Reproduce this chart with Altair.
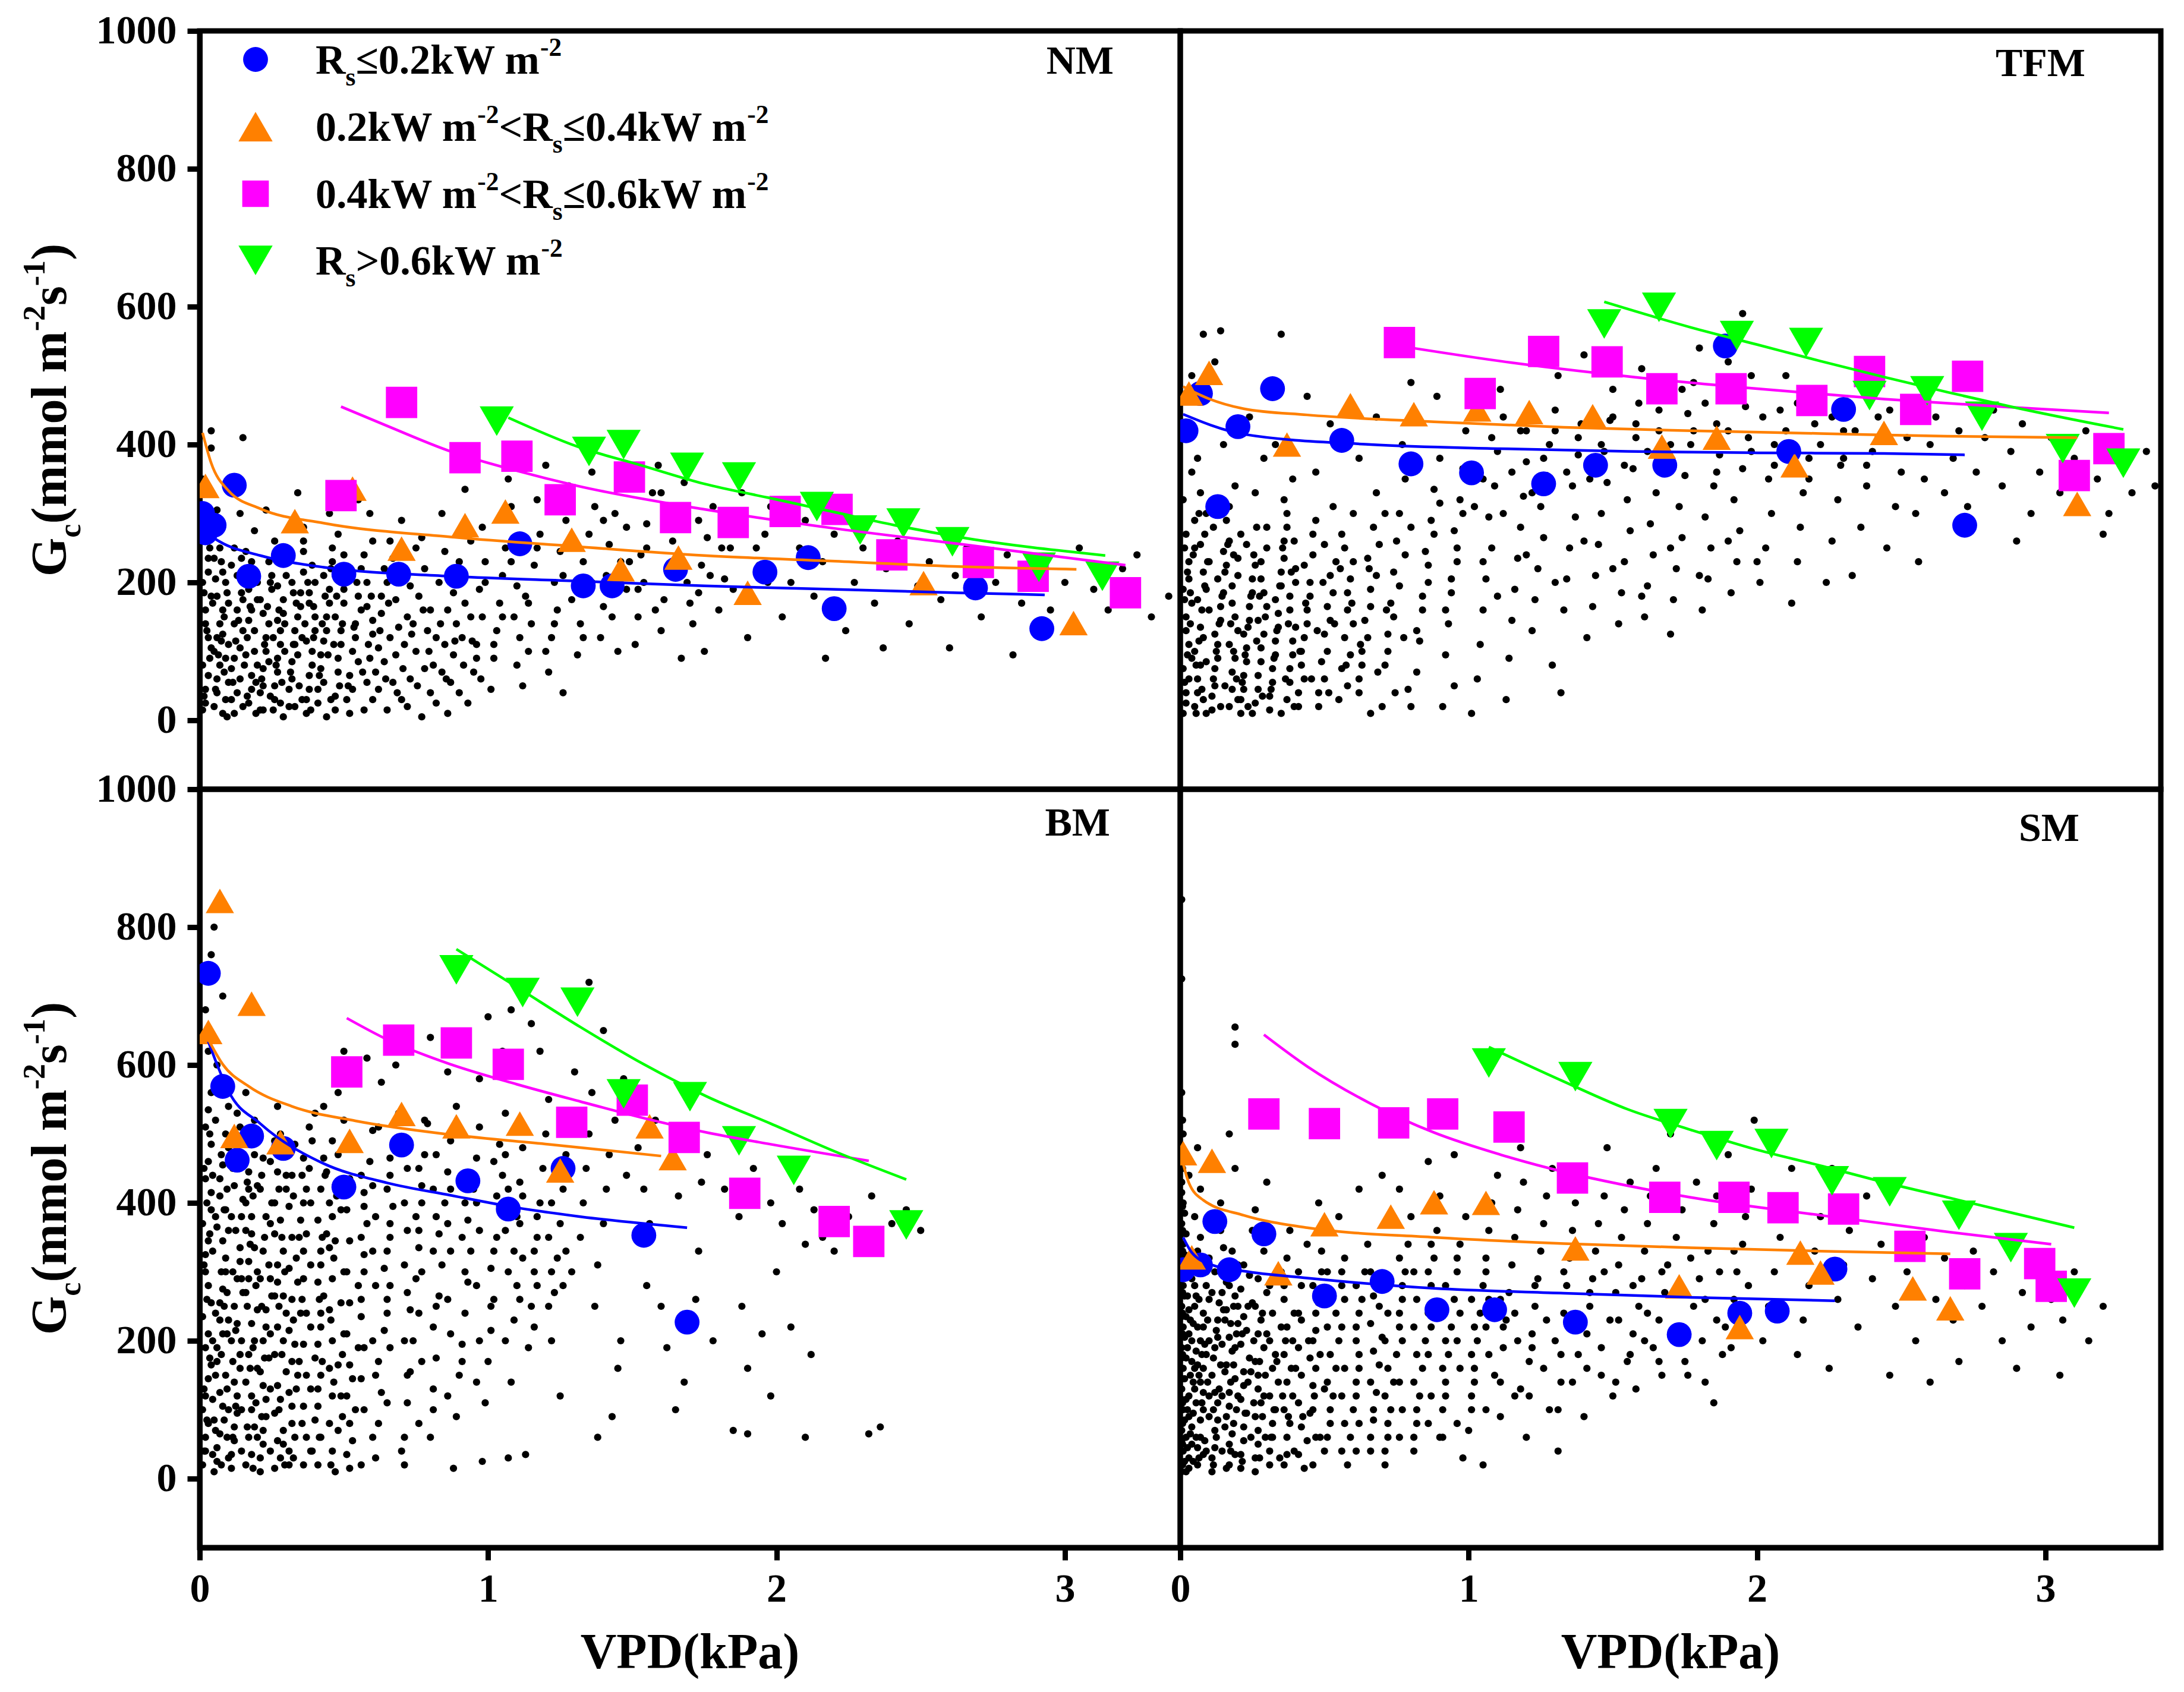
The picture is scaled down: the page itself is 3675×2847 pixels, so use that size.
import altair as alt
import pandas as pd

# ---------------- layout / style ----------------
W, H = 1650, 1276
XMAX = 3.4
FONT = "Liberation Serif"
BLACK = "#000000"

CLASS_NAMES = ["c1", "c2", "c3", "c4"]
CLASS_COLORS = ["#0000FF", "#FF8000", "#FF00FF", "#00FF00"]
CLASS_SHAPES = ["circle", "triangle-up", "square", "triangle-down"]
CLASS_SIZES = [1750, 3300, 2000, 3300]

X_TICKS = [0, 1, 2, 3]
Y_TICKS = [0, 200, 400, 600, 800, 1000]
PANEL_LABELS = ["NM", "TFM", "BM", "SM"]

# ---------------- data: NM ----------------
NM_DOTS = [
    (0.01, 15), (0.02, 45), (0.01, 80), (0.03, 120), (0.02, 160), (0.01, 200), (0.03, 235), (0.02, 300), (0.01, 350), (0.04, 395),
    (0.05, 20), (0.06, 60), (0.05, 100), (0.07, 140), (0.06, 180), (0.08, 215), (0.07, 250), (0.09, 30), (0.09, 90), (0.08, 125),
    (0.10, 170), (0.10, 55), (0.04, 420), (0.06, 305),
    (0.12, 10), (0.13, 40), (0.11, 75), (0.14, 105), (0.12, 140), (0.15, 175), (0.13, 210), (0.16, 245), (0.17, 25), (0.18, 65),
    (0.16, 95), (0.19, 130), (0.18, 160), (0.20, 200), (0.19, 275), (0.14, 300), (0.15, 410), (0.11, 225), (0.17, 190),
    (0.21, 15), (0.22, 50), (0.24, 85), (0.23, 120), (0.22, 155), (0.25, 190), (0.24, 230), (0.26, 30), (0.27, 70), (0.28, 110),
    (0.27, 145), (0.29, 175), (0.26, 260), (0.30, 210), (0.29, 5), (0.23, 305),
    (0.31, 20), (0.32, 60), (0.34, 95), (0.33, 130), (0.35, 165), (0.32, 200), (0.36, 245), (0.37, 10), (0.38, 45), (0.39, 80),
    (0.37, 115), (0.40, 150), (0.38, 185), (0.36, 280), (0.39, 225), (0.34, 330),
    (0.41, 25), (0.43, 55), (0.42, 95), (0.44, 130), (0.45, 170), (0.43, 210), (0.46, 250), (0.47, 15), (0.48, 70), (0.49, 110),
    (0.47, 150), (0.50, 190), (0.48, 270), (0.45, 300),
    (0.52, 10), (0.53, 45), (0.55, 85), (0.54, 120), (0.56, 160), (0.58, 200), (0.57, 240), (0.60, 30), (0.61, 70), (0.62, 105),
    (0.60, 145), (0.63, 180), (0.64, 220), (0.66, 260), (0.65, 15), (0.67, 55), (0.68, 95), (0.69, 135), (0.68, 175), (0.70, 290),
    (0.59, 300), (0.55, 320),
    (0.72, 20), (0.73, 60), (0.75, 100), (0.74, 140), (0.76, 180), (0.78, 220), (0.77, 265), (0.80, 40), (0.81, 80), (0.82, 120),
    (0.80, 160), (0.83, 200), (0.85, 245), (0.86, 10), (0.87, 55), (0.88, 95), (0.89, 140), (0.88, 185), (0.90, 230), (0.84, 300),
    (0.92, 335),
    (0.93, 25), (0.95, 70), (0.96, 110), (0.94, 150), (0.97, 190), (0.99, 230), (0.98, 280), (1.01, 45), (1.02, 90), (1.03, 130),
    (1.04, 170), (1.05, 210), (1.06, 250), (1.08, 310), (1.07, 350), (1.10, 80), (1.09, 150), (1.10, 195),
    (1.12, 50), (1.14, 100), (1.15, 140), (1.13, 180), (1.16, 225), (1.18, 270), (1.17, 320), (1.20, 370), (1.21, 70), (1.22, 120),
    (1.24, 160), (1.23, 200), (1.25, 245), (1.27, 290), (1.26, 40), (1.28, 340), (1.29, 175),
    (1.31, 95), (1.32, 140), (1.34, 185), (1.33, 230), (1.35, 270), (1.37, 310), (1.36, 360), (1.39, 120), (1.40, 165), (1.41, 210),
    (1.42, 255), (1.44, 300), (1.46, 345), (1.45, 100), (1.48, 190), (1.49, 230),
    (1.51, 110), (1.52, 150), (1.54, 200), (1.53, 240), (1.55, 285), (1.57, 330), (1.59, 370), (1.60, 130), (1.61, 175), (1.63, 220),
    (1.64, 260), (1.65, 300), (1.67, 90), (1.68, 345), (1.69, 200),
    (1.71, 140), (1.73, 185), (1.74, 225), (1.76, 265), (1.78, 310), (1.80, 160), (1.82, 205), (1.84, 250), (1.86, 290), (1.88, 330),
    (1.90, 120), (1.92, 175), (1.94, 225), (1.96, 270), (1.98, 310), (1.75, 100),
    (2.02, 150), (2.05, 200), (2.08, 250), (2.10, 290), (2.13, 180), (2.16, 230), (2.20, 270), (2.24, 130), (2.27, 200), (2.30, 250),
    (2.34, 170), (2.38, 220), (2.42, 260), (2.46, 140), (2.49, 195), (2.17, 90), (2.37, 105),
    (2.53, 230), (2.57, 175), (2.62, 210), (2.66, 250), (2.71, 150), (2.76, 200), (2.80, 240), (2.85, 170), (2.90, 215), (2.95, 160),
    (3.00, 200), (3.05, 250), (3.10, 190), (3.15, 160), (3.20, 220), (3.25, 240), (3.30, 150), (3.36, 180), (2.60, 105), (2.82, 95),
]
NM_DOTS_2 = [
    (0.02, 25), (0.03, 65), (0.04, 105), (0.02, 140), (0.04, 180), (0.03, 215), (0.05, 270), (0.06, 40), (0.07, 80), (0.08, 160),
    (0.09, 200), (0.05, 235), (0.08, 10), (0.10, 110), (0.06, 120),
    (0.11, 30), (0.12, 90), (0.14, 60), (0.15, 130), (0.13, 160), (0.16, 215), (0.18, 45), (0.19, 100), (0.17, 145), (0.20, 175),
    (0.12, 250), (0.18, 230), (0.15, 20), (0.20, 80),
    (0.21, 40), (0.22, 75), (0.23, 100), (0.24, 140), (0.21, 175), (0.25, 210), (0.26, 50), (0.27, 90), (0.28, 130), (0.29, 155),
    (0.27, 195), (0.30, 240), (0.22, 15), (0.28, 25),
    (0.31, 45), (0.32, 85), (0.33, 110), (0.34, 150), (0.35, 185), (0.36, 215), (0.37, 30), (0.38, 65), (0.39, 100), (0.40, 130),
    (0.38, 170), (0.40, 200), (0.33, 20), (0.36, 260),
    (0.41, 45), (0.42, 75), (0.43, 115), (0.44, 150), (0.45, 190), (0.46, 230), (0.47, 35), (0.48, 90), (0.49, 130), (0.50, 170),
    (0.47, 210), (0.44, 5), (0.50, 240),
    (0.51, 30), (0.52, 65), (0.53, 100), (0.54, 140), (0.55, 180), (0.56, 220), (0.57, 15), (0.58, 55), (0.59, 90), (0.60, 125),
    (0.58, 165), (0.60, 260),
    (0.62, 45), (0.64, 85), (0.66, 120), (0.63, 155), (0.65, 200), (0.67, 235), (0.70, 30), (0.71, 110), (0.72, 150), (0.73, 195),
    (0.75, 250), (0.78, 75), (0.79, 130), (0.77, 5),
    (0.82, 25), (0.84, 70), (0.85, 110), (0.86, 160), (0.87, 210), (0.90, 40), (0.91, 120), (0.92, 170), (0.94, 260), (0.96, 90),
    (0.98, 150), (0.99, 200),
    (1.02, 110), (1.05, 150), (1.08, 230), (1.11, 120), (1.14, 170), (1.17, 250), (1.20, 100), (1.23, 140), (1.26, 210), (1.30, 260),
    (1.33, 120), (1.36, 200), (1.40, 290), (1.43, 150), (1.46, 230), (1.48, 280),
    (1.52, 190), (1.55, 250), (1.58, 160), (1.62, 280), (1.66, 230), (1.70, 170), (1.73, 290), (1.77, 210), (1.81, 250), (1.85, 190),
    (1.89, 280), (1.93, 250), (1.97, 200), (1.60, 330), (1.83, 300),
]
NM_DOTS_3 = [
    (0.015, 35), (0.035, 90), (0.025, 130), (0.045, 170), (0.015, 185), (0.035, 250), (0.055, 45), (0.065, 95), (0.075, 115),
    (0.085, 150), (0.095, 185), (0.055, 205), (0.075, 230), (0.085, 70), (0.095, 5),
    (0.115, 55), (0.125, 115), (0.135, 145), (0.145, 185), (0.155, 80), (0.165, 120), (0.175, 165), (0.185, 210), (0.195, 10),
    (0.195, 55), (0.165, 35), (0.145, 235),
    (0.215, 60), (0.225, 110), (0.235, 165), (0.245, 200), (0.255, 120), (0.265, 80), (0.275, 160), (0.285, 55), (0.295, 100),
    (0.295, 140), (0.255, 15), (0.245, 35),
    (0.315, 70), (0.325, 110), (0.335, 170), (0.345, 50), (0.355, 120), (0.365, 140), (0.375, 200), (0.385, 15), (0.395, 120),
    (0.395, 165), (0.355, 30), (0.325, 185),
    (0.415, 65), (0.425, 140), (0.435, 180), (0.445, 95), (0.455, 30), (0.465, 110), (0.475, 180), (0.485, 50), (0.495, 140),
    (0.455, 220),
    (0.515, 50), (0.535, 135), (0.545, 200), (0.565, 70), (0.585, 110), (0.595, 180), (0.625, 130), (0.645, 60), (0.655, 170),
    (0.685, 40), (0.705, 75), (0.735, 125), (0.755, 50), (0.775, 160), (0.795, 100), (0.835, 140), (0.855, 60), (0.885, 115),
    (0.915, 80), (0.945, 115), (0.975, 60),
]
NM_MEAN_1 = [(0.01, 300), (0.02, 272), (0.05, 283), (0.12, 341), (0.17, 209), (0.29, 239), (0.50, 212), (0.69, 212), (0.89, 209),
             (1.11, 256), (1.33, 195), (1.43, 195), (1.65, 219), (1.96, 215), (2.11, 236), (2.20, 162), (2.69, 192), (2.92, 133)]
NM_MEAN_2 = [(0.02, 340), (0.33, 289), (0.53, 336), (0.70, 249), (0.92, 283), (1.06, 303), (1.29, 262), (1.46, 219), (1.66, 236),
             (1.90, 185), (2.51, 199), (3.03, 141)]
NM_MEAN_3 = [(0.49, 326), (0.70, 461), (0.92, 381), (1.10, 383), (1.25, 320), (1.49, 353), (1.65, 294), (1.85, 287), (2.03, 303),
             (2.21, 306), (2.40, 240), (2.70, 229), (2.89, 209), (3.21, 185)]
NM_MEAN_4 = [(1.03, 434), (1.35, 390), (1.47, 400), (1.69, 367), (1.87, 353), (2.14, 310), (2.29, 276), (2.44, 286), (2.61, 259),
             (2.91, 222), (3.13, 209)]
NM_FIT_1 = [(0.02, 273), (0.07, 259), (0.21, 239), (0.43, 222), (0.87, 209), (1.31, 202), (1.75, 195), (2.19, 190), (2.63, 185), (2.93, 182)]
NM_FIT_2 = [(0.01, 417), (0.04, 373), (0.10, 333), (0.21, 307), (0.43, 286), (0.87, 266), (1.31, 252), (1.75, 239), (2.19, 231),
            (2.63, 223), (3.04, 219)]
NM_FIT_3 = [(0.49, 455), (0.65, 427), (0.87, 390), (1.09, 363), (1.31, 340), (1.75, 306), (2.19, 279), (2.63, 256), (3.21, 225)]
NM_FIT_4 = [(1.07, 439), (1.31, 397), (1.53, 370), (1.75, 343), (1.97, 323), (2.19, 303), (2.41, 283), (2.63, 266), (3.14, 239)]

# ---------------- data: TFM ----------------
TFM_DOTS = [
    (0.01, 10), (0.02, 40), (0.01, 75), (0.03, 110), (0.02, 150), (0.01, 190), (0.03, 230), (0.02, 270), (0.01, 320), (0.04, 360),
    (0.02, 420), (0.03, 470), (0.05, 20), (0.06, 60), (0.05, 100), (0.07, 135), (0.06, 175), (0.08, 215), (0.07, 255), (0.09, 300),
    (0.08, 30), (0.09, 85), (0.10, 160), (0.06, 380), (0.08, 560), (0.04, 500),
    (0.11, 15), (0.12, 50), (0.13, 90), (0.12, 125), (0.14, 165), (0.13, 205), (0.15, 245), (0.16, 290), (0.17, 20), (0.18, 70),
    (0.17, 110), (0.19, 150), (0.18, 195), (0.20, 235), (0.19, 340), (0.15, 400), (0.14, 565), (0.12, 520), (0.20, 30),
    (0.21, 10), (0.22, 45), (0.23, 85), (0.22, 125), (0.24, 165), (0.25, 205), (0.23, 255), (0.26, 25), (0.27, 65), (0.28, 105),
    (0.27, 145), (0.29, 185), (0.28, 230), (0.30, 280), (0.26, 330), (0.24, 440), (0.29, 380),
    (0.31, 15), (0.32, 55), (0.33, 95), (0.34, 135), (0.33, 175), (0.35, 215), (0.36, 260), (0.37, 30), (0.38, 75), (0.39, 115),
    (0.38, 160), (0.40, 200), (0.37, 300), (0.39, 350), (0.33, 400), (0.35, 560),
    (0.41, 20), (0.43, 60), (0.42, 100), (0.44, 140), (0.45, 180), (0.43, 225), (0.46, 270), (0.48, 40), (0.49, 85), (0.50, 125),
    (0.51, 165), (0.52, 210), (0.50, 255), (0.53, 310), (0.55, 30), (0.56, 75), (0.57, 120), (0.58, 160), (0.59, 205), (0.57, 250),
    (0.60, 300), (0.47, 360), (0.55, 395), (0.44, 470), (0.52, 430),
    (0.62, 60), (0.63, 100), (0.64, 145), (0.66, 190), (0.65, 235), (0.67, 280), (0.68, 330), (0.70, 20), (0.71, 80), (0.72, 125),
    (0.73, 170), (0.74, 215), (0.75, 260), (0.76, 300), (0.78, 350), (0.77, 400), (0.79, 45), (0.62, 380), (0.68, 440), (0.80, 490),
    (0.82, 70), (0.83, 115), (0.84, 160), (0.86, 200), (0.85, 245), (0.87, 290), (0.88, 335), (0.90, 380), (0.91, 20), (0.92, 95),
    (0.93, 140), (0.94, 185), (0.96, 230), (0.95, 275), (0.97, 320), (0.98, 365), (0.99, 420), (0.89, 470), (0.95, 50),
    (1.01, 10), (1.03, 60), (1.04, 110), (1.05, 160), (1.06, 205), (1.08, 250), (1.07, 295), (1.09, 340), (1.10, 390), (1.12, 440),
    (1.11, 480), (1.14, 90), (1.15, 145), (1.16, 190), (1.17, 235), (1.18, 280), (1.19, 325), (1.20, 375), (1.13, 30), (1.20, 420),
    (1.22, 130), (1.23, 175), (1.24, 220), (1.26, 265), (1.25, 310), (1.27, 355), (1.28, 400), (1.30, 450), (1.31, 500), (1.29, 80),
    (1.33, 160), (1.34, 205), (1.35, 250), (1.37, 295), (1.36, 340), (1.38, 385), (1.39, 430), (1.40, 530), (1.32, 40),
    (1.41, 120), (1.43, 165), (1.44, 210), (1.45, 255), (1.46, 300), (1.48, 345), (1.47, 390), (1.49, 435), (1.50, 480), (1.52, 140),
    (1.53, 185), (1.54, 230), (1.56, 275), (1.55, 320), (1.57, 365), (1.58, 410), (1.59, 460), (1.60, 510),
    (1.61, 150), (1.62, 195), (1.64, 240), (1.63, 285), (1.65, 330), (1.67, 375), (1.66, 420), (1.68, 465), (1.70, 125), (1.71, 175),
    (1.72, 220), (1.74, 265), (1.73, 310), (1.75, 355), (1.77, 400), (1.76, 445), (1.78, 490), (1.80, 540),
    (1.81, 160), (1.83, 205), (1.84, 250), (1.82, 295), (1.85, 340), (1.87, 385), (1.86, 430), (1.88, 475), (1.90, 520), (1.91, 185),
    (1.93, 230), (1.94, 275), (1.92, 320), (1.95, 365), (1.97, 410), (1.96, 455), (1.98, 500), (1.95, 590),
    (2.01, 200), (2.03, 250), (2.05, 300), (2.04, 350), (2.06, 400), (2.08, 450), (2.10, 500), (2.12, 170), (2.14, 230), (2.15, 280),
    (2.16, 330), (2.18, 380), (2.20, 430), (2.22, 470), (2.24, 200), (2.26, 260), (2.28, 320), (2.29, 370), (2.30, 420),
    (2.33, 210), (2.36, 280), (2.38, 340), (2.40, 390), (2.42, 440), (2.45, 250), (2.48, 310), (2.50, 360), (2.52, 410), (2.55, 300),
    (2.58, 350), (2.60, 400), (2.62, 440), (2.65, 330), (2.68, 380), (2.70, 420), (2.56, 230),
    (2.73, 310), (2.76, 360), (2.79, 410), (2.82, 450), (2.85, 340), (2.88, 390), (2.92, 430), (2.95, 300), (2.98, 360), (3.02, 410),
    (3.05, 330), (3.10, 380), (3.14, 420), (3.18, 350), (3.22, 300), (3.26, 370), (3.30, 330), (3.35, 390), (3.38, 340), (2.90, 260),
    (3.20, 270),
]
TFM_DOTS_2 = [
    (0.02, 25), (0.03, 60), (0.04, 90), (0.02, 130), (0.04, 170), (0.03, 205), (0.05, 250), (0.06, 40), (0.07, 80), (0.08, 120),
    (0.09, 190), (0.05, 290), (0.10, 230), (0.07, 330), (0.09, 10),
    (0.11, 35), (0.12, 75), (0.13, 110), (0.14, 145), (0.15, 185), (0.16, 225), (0.17, 260), (0.18, 45), (0.19, 90), (0.20, 130),
    (0.18, 170), (0.20, 210), (0.14, 20), (0.17, 310),
    (0.21, 30), (0.22, 65), (0.23, 105), (0.24, 145), (0.25, 185), (0.26, 225), (0.21, 270), (0.27, 45), (0.28, 85), (0.29, 125),
    (0.30, 165), (0.28, 205), (0.30, 250), (0.25, 10),
    (0.31, 35), (0.32, 75), (0.33, 115), (0.34, 155), (0.35, 195), (0.36, 235), (0.37, 280), (0.38, 55), (0.39, 95), (0.40, 135),
    (0.38, 180), (0.40, 220), (0.35, 10), (0.36, 320),
    (0.41, 40), (0.42, 80), (0.43, 120), (0.44, 160), (0.45, 200), (0.46, 240), (0.47, 290), (0.48, 20), (0.50, 60), (0.51, 100),
    (0.52, 145), (0.53, 185), (0.54, 230), (0.56, 270), (0.58, 50), (0.59, 95), (0.60, 140), (0.58, 185), (0.60, 230),
    (0.62, 40), (0.63, 80), (0.65, 120), (0.66, 165), (0.68, 210), (0.69, 255), (0.71, 300), (0.72, 100), (0.74, 150), (0.76, 195),
    (0.78, 240), (0.80, 280), (0.82, 130), (0.84, 180), (0.86, 225), (0.88, 270), (0.90, 315), (0.92, 160), (0.94, 205), (0.96, 250),
    (0.98, 300), (0.66, 10), (0.80, 20),
    (1.02, 310), (1.05, 350), (1.08, 410), (1.12, 300), (1.15, 360), (1.18, 420), (1.22, 330), (1.26, 380), (1.30, 420), (1.34, 360),
    (1.38, 410), (1.42, 350), (1.46, 400), (1.50, 440), (1.54, 370), (1.58, 430), (1.62, 390), (1.66, 450), (1.70, 400), (1.74, 480),
    (1.78, 420), (1.82, 460), (1.86, 360), (1.90, 420), (1.94, 470), (1.98, 390), (2.02, 440), (2.06, 370), (2.10, 420), (2.14, 460),
    (2.18, 350), (2.22, 400), (2.26, 440), (2.30, 380), (2.34, 420), (2.38, 370), (2.42, 410), (2.46, 450),
    (1.05, 230), (1.10, 180), (1.20, 240), (1.30, 200), (1.40, 260), (1.50, 220), (1.60, 180), (1.70, 250), (1.80, 210), (1.90, 260),
    (2.00, 230),
]
TFM_DOTS_3 = [
    (0.015, 55), (0.025, 95), (0.035, 140), (0.015, 175), (0.035, 185), (0.025, 215), (0.045, 240), (0.015, 250), (0.055, 80),
    (0.065, 115), (0.075, 160), (0.085, 195), (0.095, 230), (0.055, 10), (0.075, 45), (0.085, 270), (0.065, 300),
    (0.115, 60), (0.125, 100), (0.135, 140), (0.145, 180), (0.155, 215), (0.165, 255), (0.175, 140), (0.185, 100), (0.195, 60),
    (0.115, 280), (0.155, 50), (0.185, 240),
    (0.215, 55), (0.225, 95), (0.235, 135), (0.245, 180), (0.255, 240), (0.265, 115), (0.275, 180), (0.285, 35), (0.295, 150),
    (0.235, 20), (0.265, 280),
    (0.315, 45), (0.325, 90), (0.335, 130), (0.345, 195), (0.355, 250), (0.365, 60), (0.375, 140), (0.385, 215), (0.395, 20),
    (0.395, 260),
    (0.415, 100), (0.435, 170), (0.455, 60), (0.475, 130), (0.495, 200), (0.515, 40), (0.535, 140), (0.555, 220), (0.575, 80),
    (0.595, 170), (0.625, 110), (0.655, 220), (0.685, 70), (0.715, 160), (0.745, 40), (0.775, 120),
]
TFM_MEAN_1 = [(0.07, 474), (0.02, 420), (0.32, 481), (0.20, 426), (0.13, 310), (0.56, 406), (0.80, 372), (1.01, 359), (1.26, 343),
              (1.44, 370), (1.68, 370), (1.89, 543), (2.11, 390), (2.30, 451), (2.72, 283)]
TFM_MEAN_2 = [(0.10, 504), (0.03, 474), (0.37, 400), (0.59, 457), (0.81, 444), (1.03, 451), (1.21, 447), (1.43, 441), (1.67, 397),
              (1.86, 410), (2.13, 370), (2.44, 417), (3.11, 314)]
TFM_MEAN_3 = [(0.76, 548), (1.26, 535), (1.48, 520), (1.04, 474), (1.67, 481), (1.91, 481), (2.19, 464), (2.39, 506), (2.55, 451),
              (2.73, 499), (3.10, 355), (3.22, 394)]
TFM_MEAN_4 = [(1.47, 575), (1.66, 599), (1.93, 558), (2.17, 548), (2.39, 471), (2.59, 478), (2.78, 441), (3.06, 394), (3.27, 373)]
TFM_FIT_1 = [(0.01, 444), (0.22, 415), (0.66, 400), (1.11, 394), (1.55, 390), (2.00, 388), (2.44, 387), (2.72, 385)]
TFM_FIT_2 = [(0.01, 484), (0.09, 468), (0.22, 452), (0.44, 443), (0.88, 433), (1.33, 425), (1.77, 420), (2.22, 416), (2.66, 412), (3.11, 410)]
TFM_FIT_3 = [(0.76, 543), (1.11, 521), (1.55, 499), (2.00, 481), (2.44, 466), (2.88, 454), (3.22, 446)]
TFM_FIT_4 = [(1.47, 607), (1.77, 570), (2.00, 545), (2.22, 521), (2.44, 498), (2.66, 476), (2.88, 455), (3.27, 422)]

# ---------------- data: BM ----------------
BM_DOTS = [
    (0.01, 20), (0.02, 60), (0.01, 100), (0.03, 145), (0.02, 190), (0.01, 235), (0.03, 280), (0.02, 325), (0.01, 370), (0.04, 415),
    (0.03, 460), (0.02, 510), (0.04, 560), (0.03, 620), (0.02, 680), (0.04, 760), (0.05, 10), (0.06, 45), (0.05, 85), (0.07, 125),
    (0.06, 170), (0.08, 210), (0.07, 255), (0.09, 300), (0.08, 345), (0.09, 390), (0.07, 435), (0.06, 600), (0.10, 480), (0.10, 30),
    (0.05, 800), (0.08, 700),
    (0.11, 15), (0.12, 55), (0.13, 95), (0.12, 140), (0.14, 180), (0.13, 225), (0.15, 270), (0.14, 315), (0.16, 360), (0.15, 405),
    (0.17, 445), (0.16, 490), (0.18, 35), (0.19, 75), (0.18, 120), (0.20, 160), (0.19, 200), (0.20, 245), (0.17, 290), (0.19, 335),
    (0.18, 380), (0.20, 425), (0.13, 530), (0.16, 560), (0.19, 520),
    (0.21, 10), (0.22, 50), (0.23, 90), (0.22, 135), (0.24, 175), (0.23, 220), (0.25, 265), (0.24, 310), (0.26, 355), (0.25, 400),
    (0.27, 445), (0.26, 490), (0.28, 30), (0.29, 70), (0.28, 115), (0.30, 155), (0.29, 200), (0.30, 240), (0.27, 285), (0.29, 330),
    (0.28, 375), (0.30, 420), (0.27, 540),
    (0.31, 20), (0.33, 60), (0.32, 105), (0.34, 150), (0.33, 195), (0.35, 240), (0.34, 285), (0.36, 330), (0.35, 375), (0.37, 420),
    (0.36, 465), (0.38, 510), (0.39, 40), (0.40, 85), (0.41, 130), (0.40, 175), (0.42, 220), (0.43, 265), (0.42, 310), (0.44, 355),
    (0.45, 400), (0.44, 445), (0.46, 490), (0.47, 10), (0.48, 70), (0.49, 120), (0.48, 165), (0.50, 210), (0.49, 255), (0.50, 300),
    (0.47, 345), (0.49, 390), (0.48, 560), (0.43, 540), (0.50, 620),
    (0.52, 15), (0.53, 55), (0.54, 100), (0.53, 145), (0.55, 190), (0.56, 235), (0.55, 280), (0.57, 325), (0.58, 370), (0.57, 415),
    (0.59, 460), (0.60, 505), (0.61, 30), (0.62, 80), (0.63, 125), (0.62, 170), (0.64, 215), (0.65, 260), (0.64, 305), (0.66, 350),
    (0.67, 395), (0.66, 440), (0.68, 485), (0.69, 530), (0.70, 40), (0.63, 575), (0.58, 610), (0.68, 600),
    (0.71, 20), (0.72, 110), (0.73, 155), (0.74, 200), (0.73, 245), (0.75, 290), (0.76, 335), (0.75, 380), (0.77, 425), (0.78, 470),
    (0.79, 515), (0.80, 60), (0.81, 130), (0.82, 175), (0.81, 220), (0.83, 265), (0.84, 310), (0.83, 355), (0.85, 400), (0.86, 445),
    (0.87, 490), (0.88, 15), (0.89, 90), (0.90, 150), (0.89, 540), (0.86, 590), (0.80, 640),
    (0.91, 195), (0.92, 240), (0.93, 285), (0.94, 330), (0.93, 375), (0.95, 420), (0.96, 465), (0.97, 510), (0.98, 25), (0.99, 110),
    (1.00, 170), (1.01, 215), (1.02, 260), (1.01, 305), (1.03, 350), (1.04, 395), (1.05, 440), (1.04, 485), (1.06, 530), (1.07, 30),
    (1.08, 140), (1.09, 230), (1.10, 280), (1.09, 330), (1.10, 380), (0.97, 580), (1.05, 620), (1.00, 670), (1.08, 680),
    (1.11, 430), (1.12, 480), (1.13, 35), (1.14, 190), (1.15, 250), (1.16, 300), (1.17, 350), (1.18, 400), (1.19, 450), (1.20, 500),
    (1.21, 550), (1.22, 200), (1.23, 270), (1.24, 320), (1.25, 370), (1.26, 420), (1.27, 470), (1.28, 520), (1.29, 300), (1.30, 590),
    (1.18, 620), (1.25, 120), (1.15, 660),
    (1.32, 350), (1.33, 400), (1.34, 450), (1.35, 500), (1.36, 560), (1.37, 250), (1.38, 310), (1.40, 370), (1.41, 420), (1.42, 470),
    (1.44, 520), (1.45, 160), (1.46, 200), (1.47, 580), (1.48, 440), (1.35, 720), (1.40, 650), (1.43, 90), (1.38, 60),
    (1.52, 480), (1.54, 420), (1.56, 370), (1.58, 520), (1.60, 250), (1.62, 190), (1.64, 460), (1.66, 410), (1.68, 140), (1.70, 500),
    (1.72, 260), (1.74, 430), (1.76, 470), (1.78, 200), (1.55, 280), (1.65, 100), (1.73, 330),
    (1.82, 420), (1.85, 70), (1.87, 380), (1.88, 250), (1.90, 160), (1.92, 450), (1.95, 210), (1.98, 400), (2.00, 300), (2.02, 370),
    (2.05, 220), (2.08, 420), (2.10, 340), (2.13, 390), (2.16, 350), (2.20, 330), (2.25, 380), (2.28, 360), (2.33, 410), (2.36, 75),
    (2.32, 65), (2.40, 370), (2.45, 390), (2.10, 60), (1.90, 65), (2.50, 360), (2.28, 330), (2.12, 180), (1.98, 120),
]
BM_DOTS_2 = [
    (0.02, 40), (0.03, 80), (0.02, 120), (0.04, 165), (0.03, 210), (0.04, 255), (0.02, 300), (0.03, 345), (0.04, 390), (0.02, 435),
    (0.04, 485), (0.03, 535), (0.06, 25), (0.07, 65), (0.08, 105), (0.09, 150), (0.06, 190), (0.07, 230), (0.08, 275), (0.09, 320),
    (0.06, 365), (0.07, 410), (0.08, 455), (0.09, 500), (0.10, 540), (0.10, 100), (0.10, 230), (0.10, 360),
    (0.11, 35), (0.12, 75), (0.13, 120), (0.14, 160), (0.11, 200), (0.12, 250), (0.13, 290), (0.14, 335), (0.11, 380), (0.12, 425),
    (0.13, 470), (0.14, 510), (0.16, 20), (0.17, 60), (0.18, 100), (0.16, 140), (0.17, 180), (0.18, 225), (0.16, 270), (0.17, 315),
    (0.18, 355), (0.16, 400), (0.17, 420), (0.19, 470), (0.20, 60), (0.20, 300),
    (0.21, 30), (0.22, 70), (0.23, 115), (0.21, 155), (0.22, 200), (0.23, 245), (0.21, 290), (0.22, 330), (0.23, 380), (0.21, 420),
    (0.22, 465), (0.26, 15), (0.27, 55), (0.26, 95), (0.27, 135), (0.26, 180), (0.27, 220), (0.26, 265), (0.27, 310), (0.26, 400),
    (0.29, 50), (0.29, 265), (0.30, 440), (0.29, 480), (0.28, 500),
    (0.31, 40), (0.32, 80), (0.31, 125), (0.32, 170), (0.31, 215), (0.32, 260), (0.31, 305), (0.32, 350), (0.31, 395), (0.32, 440),
    (0.33, 485), (0.36, 20), (0.37, 60), (0.36, 105), (0.37, 150), (0.36, 195), (0.37, 240), (0.36, 290), (0.37, 355), (0.36, 400),
    (0.38, 450), (0.39, 490), (0.40, 530),
    (0.41, 20), (0.42, 60), (0.41, 105), (0.42, 150), (0.41, 195), (0.42, 240), (0.41, 285), (0.42, 330), (0.41, 375), (0.42, 420),
    (0.43, 465), (0.46, 40), (0.45, 80), (0.46, 120), (0.45, 160), (0.46, 200), (0.45, 245), (0.46, 290), (0.45, 335), (0.46, 380),
    (0.47, 425), (0.48, 470), (0.50, 520),
    (0.51, 35), (0.52, 80), (0.51, 120), (0.52, 165), (0.51, 210), (0.52, 255), (0.51, 300), (0.52, 345), (0.51, 390), (0.52, 435),
    (0.53, 480), (0.56, 20), (0.57, 100), (0.56, 145), (0.57, 190), (0.56, 260), (0.57, 300), (0.56, 350), (0.57, 395), (0.56, 440),
    (0.60, 60), (0.61, 150), (0.60, 200), (0.61, 280), (0.60, 330), (0.61, 380), (0.60, 425), (0.65, 110), (0.66, 190), (0.65, 240),
    (0.66, 280), (0.65, 330), (0.66, 370), (0.65, 420), (0.66, 465), (0.62, 510),
    (0.71, 60), (0.72, 150), (0.71, 200), (0.72, 270), (0.71, 310), (0.72, 360), (0.71, 400), (0.72, 450), (0.76, 80), (0.77, 170),
    (0.76, 240), (0.77, 300), (0.76, 360), (0.77, 400), (0.76, 450), (0.78, 520), (0.81, 100), (0.82, 250), (0.81, 330), (0.82, 380),
    (0.81, 420), (0.82, 470), (0.86, 120), (0.87, 210), (0.86, 260), (0.87, 330), (0.86, 370), (0.87, 420), (0.91, 170), (0.92, 300),
    (0.91, 350), (0.92, 400), (0.91, 440), (0.96, 140), (0.97, 200), (0.96, 280), (0.97, 360), (0.96, 400),
    (1.01, 250), (1.02, 330), (1.03, 410), (1.02, 460), (1.06, 200), (1.07, 300), (1.06, 360), (1.07, 420), (1.06, 470), (1.11, 260),
    (1.12, 320), (1.11, 370), (1.12, 410), (1.16, 220), (1.17, 280), (1.16, 330), (1.17, 380), (1.21, 250), (1.22, 300), (1.21, 350),
    (1.22, 400), (1.26, 280), (1.27, 330),
]
BM_DOTS_3 = [
    (0.015, 40), (0.025, 85), (0.015, 130), (0.035, 175), (0.025, 260), (0.015, 310), (0.035, 355), (0.025, 400), (0.015, 450),
    (0.035, 500), (0.045, 35), (0.055, 70), (0.045, 115), (0.055, 150), (0.045, 200), (0.055, 240), (0.045, 330), (0.055, 380),
    (0.045, 440), (0.055, 520), (0.075, 20), (0.085, 85), (0.075, 180), (0.085, 250), (0.075, 300), (0.085, 390), (0.075, 470),
    (0.095, 60), (0.095, 130), (0.095, 210), (0.095, 270), (0.095, 420),
    (0.115, 60), (0.125, 105), (0.115, 170), (0.125, 215), (0.115, 300), (0.125, 360), (0.115, 450), (0.145, 40), (0.145, 100),
    (0.145, 200), (0.145, 290), (0.145, 380), (0.145, 455), (0.165, 75), (0.175, 160), (0.165, 250), (0.175, 340), (0.165, 430),
    (0.185, 15), (0.195, 110), (0.185, 190), (0.195, 280), (0.185, 410),
    (0.215, 90), (0.225, 175), (0.215, 250), (0.225, 350), (0.215, 440), (0.245, 40), (0.245, 130), (0.245, 210), (0.245, 290),
    (0.245, 370), (0.245, 460), (0.275, 100), (0.285, 180), (0.275, 250), (0.285, 350), (0.275, 420), (0.295, 20), (0.295, 300),
    (0.325, 30), (0.335, 130), (0.325, 230), (0.335, 320), (0.325, 410), (0.355, 80), (0.345, 170), (0.355, 260), (0.345, 350),
    (0.355, 440), (0.385, 40), (0.385, 130), (0.385, 220), (0.385, 310), (0.385, 400), (0.415, 60), (0.425, 170), (0.415, 260),
    (0.425, 350), (0.435, 440), (0.455, 20), (0.465, 140), (0.455, 230), (0.465, 320), (0.475, 410), (0.495, 90), (0.495, 180),
]
BM_MEAN_1 = [(0.03, 733), (0.08, 569), (0.18, 497), (0.13, 462), (0.29, 479), (0.50, 423), (0.70, 484), (0.93, 432), (1.26, 450),
             (1.07, 391), (1.54, 353), (1.69, 227)]
BM_MEAN_2 = [(0.07, 838), (0.18, 689), (0.03, 648), (0.12, 497), (0.28, 488), (0.52, 490), (0.70, 529), (0.89, 511), (1.11, 515),
             (1.25, 447), (1.56, 511), (1.64, 465)]
BM_MEAN_3 = [(0.51, 590), (0.69, 636), (0.89, 632), (1.07, 601), (1.29, 517), (1.50, 549), (1.68, 495), (1.89, 414), (2.20, 373),
             (2.32, 344)]
BM_MEAN_4 = [(0.89, 738), (1.12, 705), (1.31, 691), (1.47, 558), (1.70, 554), (1.87, 490), (2.06, 447), (2.45, 368)]
BM_FIT_1 = [(0.03, 634), (0.06, 601), (0.10, 562), (0.21, 515), (0.43, 457), (0.65, 429), (0.87, 411), (1.10, 393), (1.32, 380), (1.69, 364)]
BM_FIT_2 = [(0.03, 637), (0.08, 601), (0.17, 569), (0.32, 540), (0.54, 519), (0.87, 499), (1.21, 485), (1.60, 468)]
BM_FIT_3 = [(0.51, 668), (0.65, 637), (0.87, 601), (1.10, 572), (1.32, 547), (1.54, 523), (1.76, 502), (1.98, 485), (2.32, 461)]
BM_FIT_4 = [(0.89, 768), (1.10, 713), (1.32, 655), (1.54, 601), (1.76, 554), (1.98, 515), (2.20, 475), (2.45, 434)]

# ---------------- data: SM ----------------
SM_DOTS = [
    (0.005, 10), (0.01, 40), (0.005, 70), (0.01, 100), (0.005, 130), (0.01, 160), (0.005, 190), (0.01, 220), (0.005, 250), (0.01, 280),
    (0.005, 310), (0.01, 340), (0.005, 370), (0.01, 400), (0.005, 430), (0.01, 500), (0.005, 560), (0.015, 25), (0.015, 85), (0.015, 145),
    (0.015, 205), (0.015, 265), (0.015, 325), (0.015, 385), (0.005, 840), (0.005, 725),
    (0.03, 15), (0.04, 50), (0.03, 90), (0.05, 130), (0.04, 170), (0.03, 210), (0.05, 250), (0.04, 290), (0.06, 330), (0.05, 380),
    (0.03, 440), (0.06, 20), (0.07, 60), (0.08, 100), (0.07, 140), (0.09, 180), (0.08, 220), (0.10, 260), (0.09, 300), (0.07, 420),
    (0.08, 35), (0.10, 120), (0.06, 480), (0.10, 200),
    (0.11, 10), (0.12, 45), (0.13, 85), (0.12, 125), (0.14, 165), (0.13, 205), (0.15, 245), (0.16, 285), (0.15, 335), (0.17, 20),
    (0.18, 65), (0.17, 105), (0.19, 145), (0.18, 185), (0.20, 225), (0.19, 265), (0.20, 310), (0.14, 400), (0.19, 450), (0.19, 630),
    (0.19, 655), (0.17, 500),
    (0.21, 15), (0.22, 55), (0.23, 95), (0.22, 135), (0.24, 175), (0.23, 215), (0.25, 255), (0.24, 295), (0.26, 30), (0.27, 70),
    (0.28, 110), (0.27, 150), (0.29, 190), (0.28, 230), (0.30, 270), (0.29, 330), (0.26, 390), (0.30, 430),
    (0.31, 20), (0.32, 60), (0.33, 100), (0.34, 140), (0.33, 180), (0.35, 220), (0.36, 260), (0.35, 300), (0.37, 35), (0.38, 80),
    (0.39, 120), (0.40, 160), (0.39, 200), (0.41, 240), (0.42, 280), (0.43, 15), (0.44, 55), (0.45, 95), (0.46, 135), (0.45, 175),
    (0.47, 215), (0.48, 255), (0.49, 300), (0.50, 40), (0.38, 360), (0.44, 340), (0.48, 400),
    (0.52, 80), (0.53, 120), (0.54, 160), (0.55, 200), (0.54, 240), (0.56, 280), (0.57, 320), (0.58, 20), (0.59, 60), (0.60, 100),
    (0.61, 140), (0.62, 180), (0.61, 220), (0.63, 260), (0.64, 300), (0.65, 340), (0.66, 40), (0.67, 85), (0.68, 125), (0.69, 165),
    (0.70, 205), (0.55, 380), (0.62, 420), (0.69, 250), (0.70, 440),
    (0.71, 20), (0.72, 60), (0.73, 100), (0.74, 140), (0.75, 180), (0.76, 220), (0.77, 260), (0.78, 300), (0.79, 340), (0.80, 380),
    (0.81, 40), (0.82, 80), (0.83, 120), (0.84, 160), (0.85, 200), (0.86, 240), (0.87, 280), (0.88, 320), (0.89, 360), (0.90, 60),
    (0.76, 420), (0.86, 460), (0.90, 410),
    (0.91, 100), (0.92, 140), (0.93, 180), (0.94, 220), (0.95, 260), (0.96, 300), (0.97, 340), (0.98, 30), (0.99, 380), (1.00, 70),
    (1.01, 120), (1.02, 160), (1.03, 200), (1.04, 240), (1.05, 280), (1.06, 320), (1.07, 360), (1.08, 400), (1.09, 150), (1.10, 440),
    (1.05, 20), (0.95, 470),
    (1.11, 90), (1.12, 190), (1.13, 230), (1.14, 270), (1.15, 310), (1.16, 350), (1.17, 390), (1.18, 130), (1.19, 430), (1.20, 60),
    (1.21, 170), (1.22, 210), (1.23, 250), (1.24, 290), (1.25, 330), (1.26, 370), (1.27, 410), (1.28, 100), (1.29, 450), (1.30, 200),
    (1.18, 480),
    (1.31, 40), (1.32, 140), (1.33, 240), (1.34, 280), (1.35, 320), (1.36, 360), (1.37, 400), (1.38, 180), (1.39, 440), (1.40, 90),
    (1.41, 210), (1.42, 250), (1.43, 290), (1.44, 330), (1.45, 370), (1.46, 150), (1.47, 410), (1.48, 480), (1.49, 230), (1.50, 120),
    (1.51, 270), (1.52, 310), (1.53, 350), (1.54, 390), (1.55, 170), (1.56, 430), (1.57, 210), (1.58, 130), (1.59, 250), (1.60, 290),
    (1.61, 330), (1.62, 370), (1.63, 410), (1.64, 190), (1.65, 450), (1.66, 230), (1.67, 150), (1.68, 270), (1.69, 310), (1.70, 500),
    (1.72, 350), (1.74, 390), (1.75, 170), (1.76, 210), (1.78, 250), (1.79, 430), (1.80, 290), (1.82, 140), (1.83, 330), (1.85, 370),
    (1.86, 410), (1.88, 180), (1.89, 220), (1.90, 470), (1.92, 260), (1.93, 300), (1.95, 340), (1.96, 380), (1.98, 420), (1.99, 520),
    (1.85, 110),
    (2.02, 200), (2.04, 250), (2.06, 300), (2.08, 350), (2.10, 400), (2.12, 450), (2.14, 180), (2.16, 230), (2.18, 280), (2.20, 330),
    (2.22, 380), (2.25, 160), (2.28, 260), (2.30, 310), (2.32, 360), (2.35, 220), (2.38, 410), (2.40, 290), (2.43, 340), (2.46, 150),
    (2.48, 250), (2.26, 450),
    (2.52, 300), (2.55, 200), (2.58, 350), (2.60, 140), (2.62, 260), (2.65, 320), (2.68, 230), (2.70, 170), (2.72, 280), (2.75, 330),
    (2.78, 250), (2.82, 300), (2.85, 200), (2.88, 350), (2.92, 270), (2.95, 220), (2.98, 310), (3.02, 260), (3.06, 230), (3.10, 300),
    (3.15, 200), (3.20, 250), (2.90, 160), (3.05, 150),
]
SM_DOTS_2 = [
    (0.005, 55), (0.005, 115), (0.005, 175), (0.005, 235), (0.005, 295), (0.005, 355), (0.005, 415), (0.005, 470), (0.02, 10), (0.02, 60),
    (0.02, 115), (0.02, 175), (0.02, 235), (0.02, 295), (0.02, 355), (0.03, 30), (0.04, 75), (0.03, 120), (0.05, 160), (0.04, 200),
    (0.03, 245), (0.05, 280), (0.04, 320), (0.06, 45), (0.07, 85), (0.08, 125), (0.06, 165), (0.07, 200), (0.08, 240), (0.09, 280),
    (0.10, 320), (0.09, 40), (0.10, 90), (0.08, 160), (0.06, 220), (0.07, 350),
    (0.11, 30), (0.12, 70), (0.13, 110), (0.11, 150), (0.12, 190), (0.13, 230), (0.11, 270), (0.12, 300), (0.16, 15), (0.17, 50),
    (0.16, 90), (0.17, 125), (0.16, 165), (0.17, 205), (0.16, 245), (0.17, 280), (0.19, 35), (0.20, 120), (0.19, 190), (0.20, 250),
    (0.18, 330), (0.14, 360),
    (0.21, 35), (0.22, 75), (0.21, 115), (0.22, 155), (0.21, 195), (0.22, 235), (0.21, 275), (0.22, 310), (0.26, 10), (0.27, 50),
    (0.26, 90), (0.27, 130), (0.26, 170), (0.27, 210), (0.26, 250), (0.27, 290), (0.29, 120), (0.30, 210), (0.29, 350), (0.25, 360),
    (0.31, 40), (0.32, 80), (0.31, 120), (0.32, 160), (0.31, 200), (0.32, 240), (0.31, 280), (0.36, 20), (0.37, 60), (0.36, 100),
    (0.37, 140), (0.36, 180), (0.37, 220), (0.36, 280), (0.37, 320), (0.41, 35), (0.42, 75), (0.41, 110), (0.42, 150), (0.41, 190),
    (0.42, 230), (0.41, 300), (0.46, 20), (0.47, 60), (0.46, 100), (0.47, 160), (0.46, 200), (0.47, 240), (0.46, 280), (0.50, 130),
    (0.49, 330),
    (0.51, 60), (0.52, 100), (0.51, 140), (0.52, 180), (0.51, 220), (0.52, 260), (0.51, 300), (0.56, 40), (0.57, 80), (0.56, 120),
    (0.57, 160), (0.56, 220), (0.57, 260), (0.56, 300), (0.61, 40), (0.62, 80), (0.61, 120), (0.62, 160), (0.61, 200), (0.62, 240),
    (0.61, 280), (0.66, 60), (0.67, 100), (0.66, 140), (0.67, 185), (0.66, 225), (0.67, 265), (0.66, 300), (0.71, 40), (0.72, 80),
    (0.71, 120), (0.72, 160), (0.71, 200), (0.72, 240), (0.71, 280), (0.76, 60), (0.77, 100), (0.76, 140), (0.77, 200), (0.76, 240),
    (0.77, 280), (0.76, 320),
    (0.81, 60), (0.82, 100), (0.81, 140), (0.82, 180), (0.81, 220), (0.82, 260), (0.81, 300), (0.86, 80), (0.87, 120), (0.86, 180),
    (0.87, 220), (0.86, 300), (0.87, 340), (0.91, 60), (0.92, 120), (0.91, 160), (0.92, 200), (0.91, 240), (0.92, 280), (0.96, 80),
    (0.97, 160), (0.96, 200), (0.97, 240), (0.96, 320), (1.01, 100), (1.02, 140), (1.01, 180), (1.02, 220), (1.01, 260), (1.06, 100),
    (1.07, 180), (1.06, 220), (1.07, 260), (1.06, 300), (1.11, 140), (1.12, 220), (1.11, 260), (1.16, 120), (1.17, 200), (1.16, 240),
    (1.21, 120), (1.22, 190), (1.23, 280), (1.26, 160), (1.27, 230), (1.31, 100), (1.32, 180), (1.33, 300), (1.36, 140), (1.37, 220),
    (1.41, 160), (1.42, 270), (1.46, 190), (1.47, 300), (1.51, 140), (1.52, 230), (1.56, 180), (1.57, 280), (1.61, 200), (1.62, 240),
    (1.66, 170), (1.67, 300), (1.71, 210), (1.72, 270), (1.76, 150), (1.77, 320), (1.81, 200), (1.82, 260), (1.86, 230), (1.87, 300),
    (1.91, 190), (1.92, 330), (1.96, 240), (1.97, 280),
]
SM_DOTS_3 = [
    (0.008, 20), (0.008, 50), (0.008, 80), (0.008, 110), (0.008, 145), (0.008, 180), (0.008, 210), (0.008, 240), (0.008, 270),
    (0.008, 300), (0.008, 330), (0.008, 360), (0.008, 395), (0.008, 450), (0.008, 520),
    (0.025, 45), (0.035, 65), (0.025, 100), (0.035, 150), (0.025, 190), (0.035, 230), (0.025, 265), (0.045, 25), (0.055, 60),
    (0.045, 95), (0.055, 110), (0.045, 140), (0.055, 185), (0.045, 225), (0.055, 265), (0.065, 30), (0.075, 110), (0.065, 150),
    (0.075, 180), (0.065, 260), (0.085, 55), (0.095, 140), (0.085, 195), (0.095, 230), (0.085, 300),
    (0.115, 20), (0.125, 60), (0.115, 100), (0.135, 130), (0.115, 175), (0.125, 215), (0.135, 255), (0.145, 40), (0.155, 75),
    (0.145, 120), (0.155, 155), (0.145, 195), (0.155, 230), (0.145, 270), (0.175, 40), (0.185, 80), (0.175, 140), (0.185, 165),
    (0.175, 225), (0.185, 250), (0.195, 100), (0.195, 210),
    (0.215, 25), (0.225, 95), (0.235, 140), (0.215, 210), (0.235, 250), (0.245, 60), (0.255, 110), (0.245, 155), (0.255, 200),
    (0.275, 30), (0.285, 90), (0.275, 170), (0.285, 240), (0.295, 60), (0.295, 150),
    (0.315, 60), (0.325, 100), (0.335, 170), (0.345, 30), (0.355, 120), (0.365, 200), (0.375, 90), (0.385, 160), (0.395, 40),
    (0.395, 240), (0.425, 90), (0.445, 200), (0.465, 120), (0.485, 60), (0.485, 180),
]
SM_MEAN_1 = [(0.01, 303), (0.07, 310), (0.12, 373), (0.29, 355), (0.17, 303), (0.50, 265), (0.70, 286), (0.89, 245), (1.09, 245),
             (1.37, 227), (1.73, 209), (1.94, 240), (2.07, 243), (2.27, 304)]
SM_MEAN_2 = [(0.01, 472), (0.11, 461), (0.04, 321), (0.34, 298), (0.50, 369), (0.73, 380), (0.88, 401), (1.06, 400), (1.37, 334),
             (1.73, 279), (1.94, 220), (2.15, 328), (2.22, 299), (2.54, 276), (2.67, 247)]
SM_MEAN_3 = [(0.29, 529), (0.50, 515), (0.74, 516), (0.91, 529), (1.14, 510), (1.36, 436), (1.68, 408), (1.92, 408), (2.09, 393),
             (2.30, 391), (2.53, 337), (2.72, 297), (2.98, 312), (3.02, 279)]
SM_MEAN_4 = [(1.07, 603), (1.37, 583), (1.70, 515), (1.86, 483), (2.05, 486), (2.26, 432), (2.46, 416), (2.70, 382), (2.88, 335),
             (3.10, 269)]
SM_FIT_1 = [(0.01, 350), (0.04, 328), (0.11, 310), (0.22, 301), (0.44, 291), (0.88, 276), (1.33, 269), (1.77, 263), (2.27, 258)]
SM_FIT_2 = [(0.01, 457), (0.03, 429), (0.08, 404), (0.22, 382), (0.44, 364), (0.88, 350), (1.33, 341), (1.77, 335), (2.22, 330), (2.67, 326)]
SM_FIT_3 = [(0.29, 644), (0.44, 598), (0.66, 544), (0.88, 502), (1.11, 470), (1.33, 445), (1.55, 425), (1.77, 408), (2.22, 382),
            (2.66, 358), (3.02, 340)]
SM_FIT_4 = [(1.07, 626), (1.33, 576), (1.55, 536), (1.77, 506), (2.00, 477), (2.22, 454), (2.44, 430), (2.66, 408), (3.10, 364)]

# ---------------- text helpers ----------------
CHAR_W = {"0": 500, "1": 500, "2": 500, "4": 500, "6": 500, ".": 250, " ": 250, "k": 556, "W": 1000, "m": 833,
          "R": 722, "s": 389, "-": 333, "<": 570, ">": 570, "\u2264": 549, "G": 778, "c": 444, "(": 333, ")": 333,
          "o": 500, "l": 278}
ONE = pd.DataFrame({"k": [0]})


def text_width(s, size):
    return sum(CHAR_W.get(ch, 500) for ch in s) / 1000.0 * size


def frag_marks(frags, start, base, fs, vertical=False):
    layers = []
    pos = 0.0
    small = fs * 0.62
    for txt, kind in frags:
        size = fs if kind == "n" else small
        off = 0.0 if kind == "n" else (0.29 * fs if kind == "sub" else -0.43 * fs)
        props = dict(text=txt, align="left", baseline="alphabetic", font=FONT, fontWeight="bold",
                     fontSize=size, color=BLACK)
        if vertical:
            m = alt.Chart(ONE).mark_text(angle=270, **props).encode(
                x=alt.value(base + off), y=alt.value(start - pos))
        else:
            m = alt.Chart(ONE).mark_text(**props).encode(
                x=alt.value(start + pos), y=alt.value(base + off))
        layers.append(m)
        pos += text_width(txt, size)
    return layers


LEGEND_ROWS = [
    [("R", "n"), ("s", "sub"), ("\u22640.2kW m", "n"), ("-2", "sup")],
    [("0.2kW m", "n"), ("-2", "sup"), ("<R", "n"), ("s", "sub"), ("\u22640.4kW m", "n"), ("-2", "sup")],
    [("0.4kW m", "n"), ("-2", "sup"), ("<R", "n"), ("s", "sub"), ("\u22640.6kW m", "n"), ("-2", "sup")],
    [("R", "n"), ("s", "sub"), (">0.6kW m", "n"), ("-2", "sup")],
]
YTITLE = [("G", "n"), ("c", "sub"), ("(mmol m", "n"), ("-2", "sup"), ("s", "n"), ("-1", "sup"), (")", "n")]

AXIS_COMMON = dict(title=None, labelFont=FONT, labelFontWeight="bold", labelFontSize=68, labelColor=BLACK,
                   tickSize=21, tickWidth=9, tickColor=BLACK, domainWidth=9, domainColor=BLACK, grid=False,
                   labelFlush=False, labelOverlap=False)


def rows_from(lists):
    out = []
    for cls, pts in zip(CLASS_NAMES, lists):
        for x, y in pts:
            out.append({"x": x, "y": y, "cls": cls})
    return pd.DataFrame(out)


def panel(dots, means, fits, label, label_x, label_y, show_x, show_y, legend=False):
    xaxis = alt.Axis(values=X_TICKS, format="d", labelPadding=15, **AXIS_COMMON) if show_x else None
    yaxis = alt.Axis(values=Y_TICKS, format="d", labelPadding=18, **AXIS_COMMON) if show_y else None
    X = alt.X("x:Q", scale=alt.Scale(domain=[0, XMAX], nice=False, zero=False), axis=xaxis)
    Y = alt.Y("y:Q", scale=alt.Scale(domain=[-100, 1000], nice=False, zero=False), axis=yaxis)
    color = alt.Color("cls:N", scale=alt.Scale(domain=CLASS_NAMES, range=CLASS_COLORS), legend=None)
    shape = alt.Shape("cls:N", scale=alt.Scale(domain=CLASS_NAMES, range=CLASS_SHAPES), legend=None)
    size = alt.Size("cls:O", scale=alt.Scale(domain=CLASS_NAMES, range=CLASS_SIZES), legend=None)

    dots_df = pd.DataFrame(dots, columns=["x", "y"])
    layers = [
        alt.Chart(dots_df).mark_circle(size=150, color=BLACK, opacity=1, clip=True).encode(x=X, y=Y),
        alt.Chart(rows_from(means)).mark_point(filled=True, opacity=1, strokeWidth=0, clip=True).encode(
            x=X, y=Y, color=color, shape=shape, size=size),
        alt.Chart(rows_from(fits)).mark_line(strokeWidth=4.5, interpolate="monotone", clip=True).encode(
            x=X, y=Y, color=color, detail="cls:N"),
        alt.Chart(ONE).mark_text(text=label, align="right", baseline="alphabetic", font=FONT, fontWeight="bold",
                                 fontSize=68, color=BLACK).encode(x=alt.value(label_x), y=alt.value(label_y)),
    ]
    if show_y:
        layers += frag_marks(YTITLE, H / 2 + 280, -225, 84, vertical=True)
    if show_x:
        layers.append(alt.Chart(ONE).mark_text(text="VPD(kPa)", align="center", baseline="alphabetic", font=FONT,
                                               fontWeight="bold", fontSize=84, color=BLACK).encode(
            x=alt.value(W / 2), y=alt.value(H + 203)))
    if legend:
        baselines = [72, 185, 298, 410]
        for i, b in enumerate(baselines):
            layers.append(alt.Chart(ONE).mark_point(shape=CLASS_SHAPES[i], filled=True, opacity=1, strokeWidth=0,
                                                    size=CLASS_SIZES[i], color=CLASS_COLORS[i]).encode(
                x=alt.value(94), y=alt.value(b - 24)))
            layers += frag_marks(LEGEND_ROWS[i], 195, b, 70)
    return alt.layer(*layers).properties(width=W, height=H)


nm = panel(NM_DOTS + NM_DOTS_2 + NM_DOTS_3, [NM_MEAN_1, NM_MEAN_2, NM_MEAN_3, NM_MEAN_4],
           [NM_FIT_1, NM_FIT_2, NM_FIT_3, NM_FIT_4], PANEL_LABELS[0], 1538, 72, show_x=False, show_y=True, legend=True)
tfm = panel(TFM_DOTS + TFM_DOTS_2 + TFM_DOTS_3, [TFM_MEAN_1, TFM_MEAN_2, TFM_MEAN_3, TFM_MEAN_4],
            [TFM_FIT_1, TFM_FIT_2, TFM_FIT_3, TFM_FIT_4], PANEL_LABELS[1], 1523, 76, show_x=False, show_y=False)
bm = panel(BM_DOTS + BM_DOTS_2 + BM_DOTS_3, [BM_MEAN_1, BM_MEAN_2, BM_MEAN_3, BM_MEAN_4],
           [BM_FIT_1, BM_FIT_2, BM_FIT_3, BM_FIT_4], PANEL_LABELS[2], 1532, 78, show_x=True, show_y=True)
sm = panel(SM_DOTS + SM_DOTS_2 + SM_DOTS_3, [SM_MEAN_1, SM_MEAN_2, SM_MEAN_3, SM_MEAN_4],
           [SM_FIT_1, SM_FIT_2, SM_FIT_3, SM_FIT_4], PANEL_LABELS[3], 1513, 87, show_x=True, show_y=False)

chart = (
    alt.concat(nm, tfm, bm, sm, columns=2, spacing=0, bounds="flush")
    .configure_view(stroke=BLACK, strokeWidth=9)
    .properties(padding={"left": 20, "top": 5, "right": 10, "bottom": 10}, background="white")
)

chart.save("out.html", embed_options={"renderer": "svg", "actions": False})
